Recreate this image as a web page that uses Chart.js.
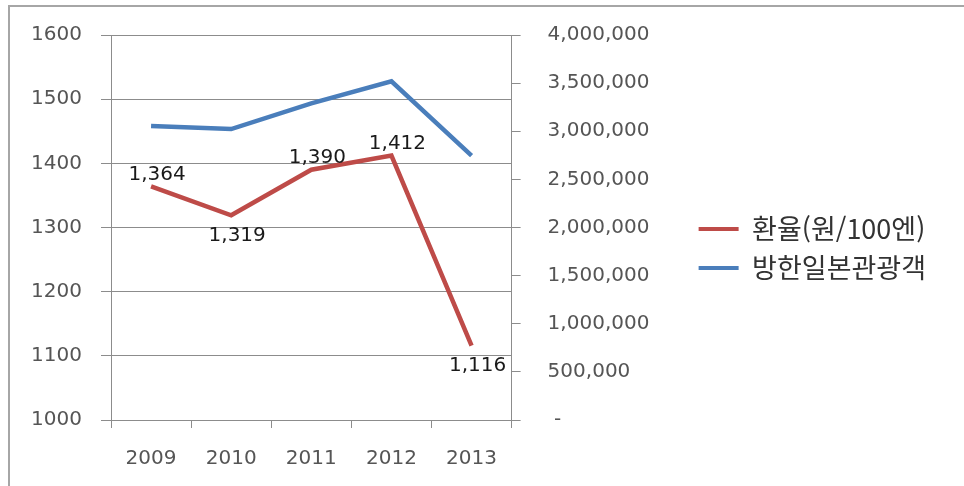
<!DOCTYPE html>
<html lang="ko">
<head>
<meta charset="utf-8">
<title>환율과 방한 일본 관광객</title>
<script src="https://cdn.jsdelivr.net/npm/chart.js@4.4.1/dist/chart.umd.min.js"></script>
<style>
  html, body { margin: 0; padding: 0; background: #ffffff; }
  #wrap { width: 964px; height: 486px; position: relative; }
</style>
</head>
<body>
<div id="wrap"><canvas id="chart" width="964" height="486"></canvas></div>
<script>
// Years on the category axis
const years = ['2009', '2010', '2011', '2012', '2013'];
// Exchange rate, won per 100 yen (left axis)
const exchangeRate = [1364, 1319, 1390, 1412, 1116];
// Japanese visitors to Korea (right axis)
const japaneseVisitors = [3053311, 3023009, 3289051, 3518792, 2747750];
// Series names shown in the legend
const seriesNames = ['환율(원/100엔)', '방한일본관광객'];
// Axis ranges and steps
const rateAxis = { min: 1000, max: 1600, step: 100 };
const visitorAxis = { min: 0, max: 4000000, step: 500000 };

const RED = '#BE4B48';
const BLUE = '#4A7EBB';
const GRID = '#8C8C8C';
const TICK_FONT = { family: 'DejaVu Sans', size: 20 };
const PLOT_TOP = 35;

// Thin grey frame around the whole graphic (open on the right and bottom)
const framePlugin = {
  id: 'frame',
  beforeDraw(chart) {
    const ctx = chart.ctx;
    ctx.save();
    ctx.fillStyle = '#ffffff';
    ctx.fillRect(0, 0, chart.width, chart.height);
    ctx.strokeStyle = '#A6A6A6';
    ctx.lineWidth = 2;
    ctx.beginPath();
    ctx.moveTo(9, chart.height + 2);
    ctx.lineTo(9, 6);
    ctx.lineTo(chart.width + 2, 6);
    ctx.stroke();
    ctx.restore();
  }
};

// Value labels for the exchange-rate line: above rising points, below falling ones
const rateLabelPlugin = {
  id: 'rateLabels',
  afterDatasetsDraw(chart) {
    const ctx = chart.ctx;
    const meta = chart.getDatasetMeta(0);
    const values = chart.data.datasets[0].data;
    ctx.save();
    ctx.font = '20px "DejaVu Sans"';
    ctx.fillStyle = '#1a1a1a';
    ctx.textAlign = 'center';
    ctx.textBaseline = 'middle';
    meta.data.forEach((pt, i) => {
      const v = values[i];
      const below = i > 0 && v < values[i - 1];
      const text = v.toLocaleString('en-US');
      ctx.fillText(text, pt.x + 6, below ? pt.y + 20 : pt.y - 12);
    });
    ctx.restore();
  }
};

new Chart(document.getElementById('chart'), {
  type: 'line',
  data: {
    labels: years,
    datasets: [
      {
        label: seriesNames[0],
        data: exchangeRate,
        yAxisID: 'y',
        borderColor: RED,
        backgroundColor: RED,
        borderWidth: 4.5,
        pointRadius: 0,
        tension: 0
      },
      {
        label: seriesNames[1],
        data: japaneseVisitors,
        yAxisID: 'y1',
        borderColor: BLUE,
        backgroundColor: BLUE,
        borderWidth: 4.5,
        pointRadius: 0,
        tension: 0
      }
    ]
  },
  options: {
    responsive: false,
    animation: false,
    devicePixelRatio: 1,
    layout: { padding: { left: 0, top: 11, right: 28, bottom: 0 } },
    plugins: {
      tooltip: { enabled: false },
      legend: {
        position: 'right',
        align: 'center',
        maxWidth: 320,
        labels: {
          boxWidth: 40,
          boxHeight: 4,
          padding: 12,
          color: '#333333',
          font: { family: 'Noto Sans CJK KR', size: 27 },
          generateLabels(chart) {
            return Chart.defaults.plugins.legend.labels.generateLabels(chart).map(item => {
              item.lineWidth = 0;
              return item;
            });
          }
        }
      }
    },
    scales: {
      x: {
        type: 'category',
        offset: true,
        grid: {
          offset: true,
          drawOnChartArea: false,
          color: GRID,
          tickLength: 8
        },
        border: { color: GRID, width: 1 },
        ticks: { font: TICK_FONT, color: '#555555', padding: 19, maxRotation: 0 },
        afterFit(s) { s.height = 66; }
      },
      y: {
        position: 'left',
        min: rateAxis.min,
        max: rateAxis.max,
        grid: { color: GRID, tickLength: 10 },
        border: { color: GRID, width: 1 },
        ticks: {
          stepSize: rateAxis.step,
          font: TICK_FONT,
          color: '#555555',
          padding: 19,
          callback: v => String(v)
        },
        afterFit(s) { s.width = 111; s.paddingTop = PLOT_TOP; }
      },
      y1: {
        position: 'right',
        min: visitorAxis.min,
        max: visitorAxis.max,
        grid: { drawOnChartArea: false, color: GRID, tickLength: 9 },
        border: { color: GRID, width: 1 },
        ticks: {
          stepSize: visitorAxis.step,
          font: TICK_FONT,
          color: '#555555',
          padding: 27,
          crossAlign: 'near',
          callback: v => (v === 0 ? ' -' : v.toLocaleString('en-US'))
        },
        afterFit(s) { s.width = 175; s.paddingTop = PLOT_TOP; }
      }
    }
  },
  plugins: [framePlugin, rateLabelPlugin]
});
</script>
</body>
</html>
